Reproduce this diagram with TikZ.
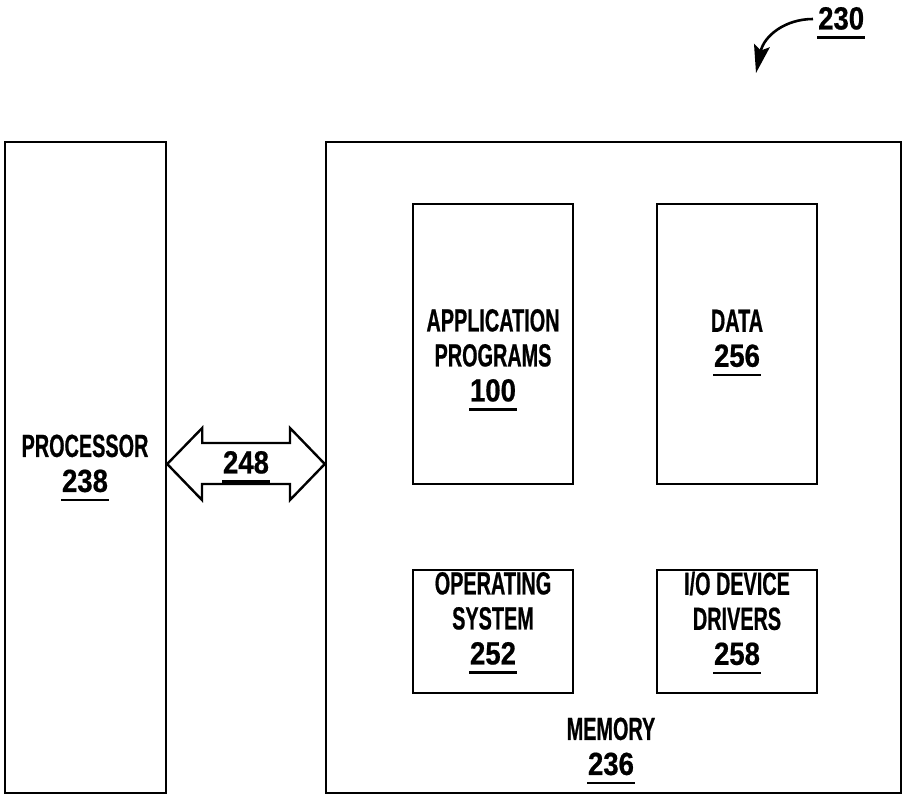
\documentclass[tikz,border=0pt]{standalone}
\usepackage{fontspec}
\usetikzlibrary{arrows.meta,calc}
\newfontfamily\condf[FakeStretch=0.62,FakeBold=0.6]{Liberation Sans}
\newfontfamily\numff[FakeStretch=0.86,FakeBold=0.6]{Liberation Sans}
\newcommand\refnum[1]{{\numff\bfseries\setbox0\hbox{#1}\rlap{\kern-1pt\rule[-9.5pt]{\dimexpr\wd0+2pt\relax}{2.6pt}}\box0}}
\tikzset{
  box/.style={draw, line width=2.4pt, inner sep=0pt},
  lbl/.style={font=\condf\bfseries\fontsize{32}{35}\selectfont, align=center, inner sep=0pt},
}
\begin{document}
\begin{tikzpicture}[x=1pt,y=-1pt]
\useasboundingbox (0,0) rectangle (903,796);
% boxes
\node[box, minimum width=161pt, minimum height=651pt] (proc) at (85.5,467.5) {};
\node[box, minimum width=575pt, minimum height=651pt] (mem) at (613.5,467.5) {};
\node[box, minimum width=160pt, minimum height=280pt] (app) at (493,344) {};
\node[box, minimum width=160pt, minimum height=280pt] (data) at (737,344) {};
\node[box, minimum width=160pt, minimum height=123pt] (os) at (493,631.5) {};
\node[box, minimum width=160pt, minimum height=123pt] (io) at (737,631.5) {};
% labels
\node[lbl] (proct) at (85,468) {PROCESSOR\\\refnum{238}};
\node[lbl] (appt) at (493,360) {APPLICATION\\PROGRAMS\\\refnum{100}};
\node[lbl] (datat) at (737,343) {DATA\\\refnum{256}};
\node[lbl] (ost) at (493,623) {OPERATING\\SYSTEM\\\refnum{252}};
\node[lbl] (iot) at (737,623) {I/O DEVICE\\DRIVERS\\\refnum{258}};
\node[lbl] (memt) at (611,751) {MEMORY\\\refnum{236}};
% bus arrow 248
\draw[line width=2.4pt, line join=miter]
  (proc.east |- 0,464) -- ++(35,-36) -- ++(0,15) -- (290,443) -- (290,428)
  -- (mem.west |- 0,464) -- (290,500) -- (290,484) -- (202,484) -- (202,500) -- cycle;
\node[lbl] (bus) at (246,467) {\refnum{248}};
% figure reference 230
\node[lbl, anchor=west] (fig) at (818,23) {\refnum{230}};
\coordinate (figtip) at (756,73);
\draw[line width=2.6pt, -{Stealth[length=28pt,width=16pt,inset=5pt]}]
  ($(fig.west)+(-5,-4)$) .. controls (785,19) and (764,36) .. (figtip);
\end{tikzpicture}
\end{document}
